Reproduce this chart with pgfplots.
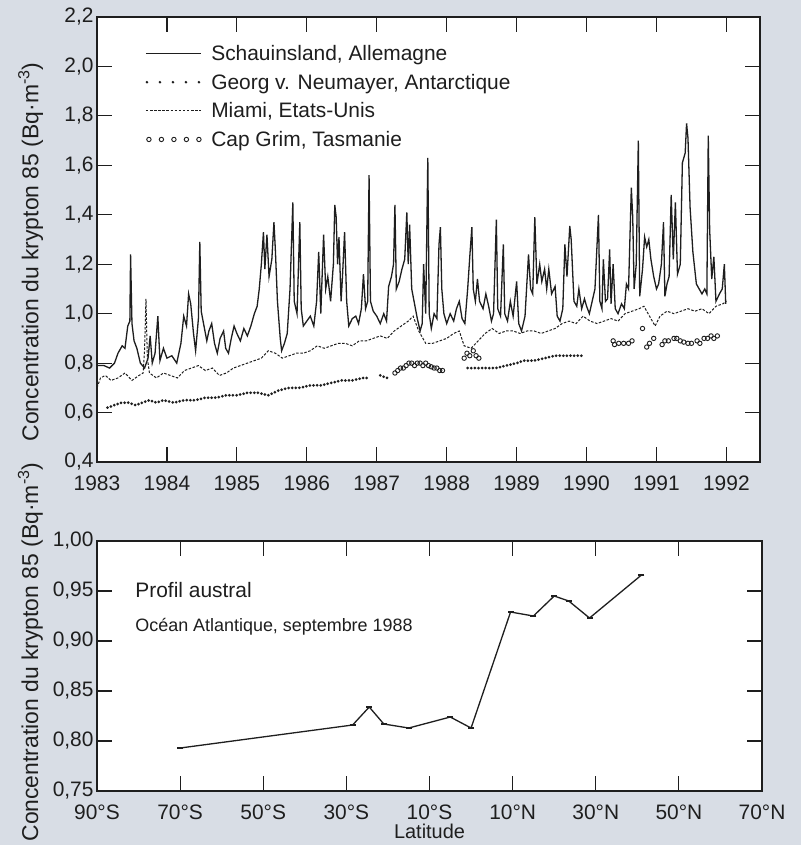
\documentclass[border=0pt]{standalone}
\usepackage{fontspec}
\setmainfont{Liberation Sans}
\usepackage{pgfplots}
\pgfplotsset{compat=1.18}
\definecolor{bg}{RGB}{216,221,229}
\definecolor{ink}{RGB}{30,30,30}

\begin{document}
\begin{tikzpicture}
\path[use as bounding box] (0,0) rectangle (801bp,-845bp);
\clip (0,0) rectangle (801bp,-845bp);
\fill[bg] (0,0) rectangle (801bp,-845bp);
\pgfplotsset{
  kr/.style={
    scale only axis,
    axis background/.style={fill=white},
    axis line style={line width=1.4bp, ink},
    tick style={line width=1.2bp, ink},
    major tick length=15bp,
    tick align=inside,
    tick label style={font=\fontsize{21}{25}\selectfont, text=ink},
    xticklabel style={yshift=-10bp},
    label style={font=\fontsize{23}{27}\selectfont, text=ink},
    /pgf/number format/assume math mode=true,
    /pgf/number format/use comma,
    /pgf/number format/1000 sep={},
  }
}

% ---------- top: time series ----------
\begin{axis}[kr,
  at={(97bp,-462bp)}, anchor=south west,
  width=663bp, height=445bp,
  xmin=1983, xmax=1992.48, ymin=0.4, ymax=2.2,
  xtick={1983,1984,...,1992},
  ytick={0.4,0.6,0.8,1.0,1.2,1.4,1.6,1.8,2.0,2.2},
  yticklabel style={/pgf/number format/fixed, /pgf/number format/fixed zerofill, /pgf/number format/precision=1},
  ylabel={Concentration du krypton 85 (Bq·m\textsuperscript{-3})},
  ylabel style={at={(axis description cs:-0.1,0.472)}, anchor=center},
  unbounded coords=jump,
  legend style={at={(axis description cs:0.068,0.946)}, anchor=north west,
    draw=none, fill=none, font=\fontsize{21}{25}\selectfont, text=ink,
    row sep=8bp, cells={anchor=west},
    /tikz/every odd column/.append style={column sep=6bp}},
  legend image code/.code={\draw[#1] (0bp,0bp) -- (55bp,0bp);},
]
\addplot[ink, line width=1.3bp] coordinates {
(1983.00,0.79) (1983.10,0.79) (1983.18,0.78) (1983.25,0.80) (1983.30,0.84) (1983.36,0.87)
(1983.40,0.86) (1983.44,0.95) (1983.47,0.97) (1983.48,1.24) (1983.50,0.96) (1983.53,0.89)
(1983.57,0.86) (1983.62,0.80) (1983.68,0.78) (1983.73,0.82) (1983.76,0.91) (1983.79,0.80)
(1983.83,0.84) (1983.87,0.99) (1983.90,0.81) (1983.95,0.86) (1984.00,0.82) (1984.07,0.83)
(1984.14,0.80) (1984.20,0.88) (1984.24,0.99) (1984.28,0.95) (1984.31,1.08) (1984.34,1.04)
(1984.38,0.92) (1984.41,0.85) (1984.45,0.98) (1984.47,1.29) (1984.49,1.01) (1984.53,0.95)
(1984.57,0.89) (1984.60,0.93) (1984.64,0.96) (1984.68,0.88) (1984.72,0.84) (1984.76,0.90)
(1984.81,0.93) (1984.84,0.86) (1984.88,0.84) (1984.92,0.90) (1984.96,0.95) (1985.00,0.92)
(1985.05,0.89) (1985.10,0.94) (1985.15,0.91) (1985.20,0.95) (1985.25,1.00) (1985.29,1.03)
(1985.32,1.10) (1985.35,1.20) (1985.38,1.33) (1985.40,1.18) (1985.43,1.32) (1985.46,1.15)
(1985.50,1.22) (1985.53,1.37) (1985.55,1.26) (1985.58,1.05) (1985.62,0.90) (1985.64,0.85)
(1985.68,0.88) (1985.72,0.92) (1985.76,1.10) (1985.80,1.45) (1985.82,1.05) (1985.86,1.00)
(1985.90,1.37) (1985.92,1.02) (1985.95,0.95) (1986.00,0.97) (1986.05,0.99) (1986.10,0.95)
(1986.14,1.05) (1986.17,1.25) (1986.20,1.00) (1986.24,1.32) (1986.27,1.10) (1986.30,1.15)
(1986.34,1.05) (1986.38,1.20) (1986.40,1.44) (1986.42,1.39) (1986.44,1.20) (1986.46,1.31)
(1986.49,1.05) (1986.51,1.15) (1986.54,1.33) (1986.57,1.05) (1986.60,0.95) (1986.65,0.98)
(1986.70,0.99) (1986.74,0.96) (1986.78,1.02) (1986.81,1.16) (1986.84,1.02) (1986.87,1.05)
(1986.89,1.56) (1986.91,1.05) (1986.95,1.01) (1987.00,0.99) (1987.05,0.96) (1987.10,1.00)
(1987.14,0.97) (1987.17,1.11) (1987.21,1.15) (1987.24,1.20) (1987.26,1.44) (1987.28,1.10)
(1987.32,1.13) (1987.36,1.18) (1987.40,1.22) (1987.43,1.41) (1987.45,1.20) (1987.47,1.36)
(1987.50,1.10) (1987.54,1.04) (1987.58,0.98) (1987.62,0.93) (1987.65,0.96) (1987.67,1.20)
(1987.70,1.00) (1987.73,1.63) (1987.75,1.00) (1987.78,0.94) (1987.82,1.00) (1987.86,0.98)
(1987.89,1.28) (1987.91,1.35) (1987.93,1.10) (1987.96,1.00) (1988.00,0.96) (1988.05,1.00)
(1988.10,0.97) (1988.14,1.02) (1988.18,1.05) (1988.22,0.98) (1988.26,0.96) (1988.30,1.10)
(1988.33,1.23) (1988.36,1.35) (1988.38,1.10) (1988.41,1.05) (1988.44,1.14) (1988.47,1.05)
(1988.52,1.02) (1988.56,1.08) (1988.60,1.03) (1988.64,0.97) (1988.67,1.00) (1988.71,1.38)
(1988.73,1.02) (1988.77,0.99) (1988.81,1.28) (1988.83,1.00) (1988.87,0.97) (1988.91,1.05)
(1988.95,0.99) (1989.00,1.13) (1989.03,0.96) (1989.07,0.93) (1989.12,0.99) (1989.17,1.24)
(1989.20,1.10) (1989.23,1.08) (1989.26,1.39) (1989.29,1.12) (1989.33,1.20) (1989.36,1.13)
(1989.40,1.18) (1989.43,1.10) (1989.46,1.18) (1989.50,1.08) (1989.55,1.11) (1989.58,0.99)
(1989.62,0.97) (1989.66,1.02) (1989.69,1.28) (1989.72,1.15) (1989.76,1.355) (1989.78,1.30)
(1989.82,1.05) (1989.86,1.03) (1989.89,1.10) (1989.93,1.02) (1989.97,1.06) (1990.00,1.03)
(1990.04,1.00) (1990.08,1.05) (1990.12,1.10) (1990.17,1.40) (1990.19,1.05) (1990.22,1.02)
(1990.24,1.22) (1990.27,1.05) (1990.30,1.06) (1990.33,1.26) (1990.35,1.04) (1990.38,1.20)
(1990.41,1.02) (1990.45,1.00) (1990.50,1.04) (1990.54,1.02) (1990.57,1.12) (1990.60,1.10)
(1990.64,1.51) (1990.66,1.39) (1990.68,1.10) (1990.71,1.20) (1990.74,1.70) (1990.76,1.07)
(1990.80,1.18) (1990.83,1.31) (1990.86,1.27) (1990.89,1.30) (1990.92,1.22) (1990.96,1.15)
(1991.00,1.10) (1991.03,1.12) (1991.07,1.20) (1991.10,1.37) (1991.12,1.07) (1991.15,1.12)
(1991.18,1.15) (1991.21,1.48) (1991.24,1.22) (1991.27,1.45) (1991.30,1.16) (1991.34,1.20)
(1991.37,1.61) (1991.41,1.65) (1991.43,1.77) (1991.45,1.71) (1991.48,1.43) (1991.52,1.25)
(1991.57,1.12) (1991.61,1.10) (1991.65,1.08) (1991.69,1.10) (1991.72,1.08) (1991.74,1.72)
(1991.76,1.34) (1991.79,1.14) (1991.82,1.23) (1991.85,1.05) (1991.90,1.08) (1991.94,1.10)
(1991.97,1.20) (1991.99,1.04)
};
\addlegendentry{Schauinsland, Allemagne}

\addplot[ink, line width=3bp, line cap=round, dash pattern=on 0bp off 3.6bp,
  legend image code/.code={\draw[ink, line width=2.8bp, line cap=round, dash pattern=on 0bp off 13bp] (1bp,0bp) -- (56bp,0bp);}]
coordinates {
(1983.15,0.62) (1983.25,0.63) (1983.35,0.64) (1983.45,0.64) (1983.55,0.63) (1983.65,0.64)
(1983.75,0.65) (1983.85,0.64) (1983.95,0.65) (1984.10,0.64) (1984.25,0.65) (1984.40,0.65)
(1984.55,0.66) (1984.70,0.66) (1984.85,0.67) (1985.00,0.67) (1985.15,0.68) (1985.30,0.68)
(1985.45,0.67) (1985.60,0.69) (1985.75,0.70) (1985.90,0.70) (1986.05,0.71) (1986.20,0.71)
(1986.35,0.72) (1986.50,0.73) (1986.65,0.73) (1986.80,0.74) (1986.90,0.74) (1986.95,nan)
(1987.05,0.75) (1987.15,0.74) (1987.20,nan)
(1988.30,0.78) (1988.40,0.78) (1988.55,0.78) (1988.70,0.78) (1988.85,0.79) (1989.00,0.80)
(1989.10,0.81) (1989.25,0.81) (1989.40,0.82) (1989.55,0.83) (1989.70,0.83) (1989.85,0.83)
(1989.96,0.83)
};
\addlegendentry{Georg v. Neumayer, Antarctique}

\addplot[ink, line width=1bp, dash pattern=on 2.5bp off 1.6bp] coordinates {
(1983.00,0.70) (1983.05,0.74) (1983.12,0.75) (1983.20,0.73) (1983.30,0.74) (1983.40,0.76)
(1983.50,0.73) (1983.60,0.75) (1983.66,0.76) (1983.68,0.85) (1983.70,1.06) (1983.72,0.82)
(1983.75,0.76) (1983.85,0.74) (1983.95,0.76) (1984.05,0.75) (1984.15,0.74) (1984.25,0.77)
(1984.35,0.78) (1984.45,0.79) (1984.55,0.77) (1984.65,0.78) (1984.75,0.75) (1984.85,0.76)
(1984.95,0.78) (1985.05,0.79) (1985.15,0.80) (1985.25,0.81) (1985.35,0.82) (1985.45,0.85)
(1985.55,0.84) (1985.65,0.82) (1985.75,0.83) (1985.85,0.84) (1985.95,0.84) (1986.05,0.85)
(1986.15,0.87) (1986.25,0.86) (1986.35,0.87) (1986.45,0.88) (1986.55,0.88) (1986.65,0.87)
(1986.75,0.89) (1986.85,0.89) (1986.95,0.90) (1987.05,0.91) (1987.15,0.90) (1987.25,0.93)
(1987.35,0.95) (1987.45,0.97) (1987.52,0.99) (1987.60,0.93) (1987.70,0.88) (1987.80,0.88)
(1987.90,0.89) (1988.00,0.90) (1988.10,0.92) (1988.18,0.93) (1988.25,0.87) (1988.35,0.86)
(1988.45,0.89) (1988.55,0.92) (1988.65,0.94) (1988.75,0.92) (1988.85,0.93) (1988.95,0.93)
(1989.05,0.92) (1989.15,0.93) (1989.25,0.93) (1989.35,0.92) (1989.45,0.93) (1989.55,0.94)
(1989.65,0.96) (1989.75,0.97) (1989.85,0.96) (1989.95,0.99) (1990.05,0.97) (1990.15,0.96)
(1990.25,0.97) (1990.35,0.98) (1990.45,0.97) (1990.55,1.00) (1990.65,1.01) (1990.75,1.02)
(1990.82,1.03) (1990.90,0.99) (1990.98,0.95) (1991.05,0.99) (1991.15,1.01) (1991.25,1.00)
(1991.35,1.01) (1991.45,1.02) (1991.55,1.01) (1991.65,1.02) (1991.75,1.00) (1991.85,1.03)
(1991.95,1.04) (1992.00,1.05)
};
\addlegendentry{Miami, Etats-Unis}

\addplot[only marks, mark=o, mark size=2.2bp, mark options={ink, line width=0.9bp},
  legend image code/.code={\foreach \i in {0,...,4} {\draw[ink, line width=0.9bp] (\i*12.5bp+3bp,0bp) circle (2.2bp);}}]
coordinates {
(1987.26,0.76) (1987.30,0.77) (1987.34,0.78) (1987.38,0.78) (1987.42,0.79) (1987.46,0.80)
(1987.50,0.80) (1987.54,0.79) (1987.58,0.80) (1987.62,0.80) (1987.66,0.79) (1987.70,0.80)
(1987.74,0.79) (1987.78,0.785) (1987.82,0.78) (1987.86,0.78) (1987.90,0.77) (1987.94,0.77)
(1988.25,0.82) (1988.29,0.84) (1988.33,0.83) (1988.38,0.85) (1988.42,0.83) (1988.46,0.82)
(1990.38,0.89) (1990.40,0.875) (1990.46,0.88) (1990.53,0.88) (1990.60,0.88) (1990.65,0.89)
(1990.80,0.94) (1990.86,0.865) (1990.90,0.88) (1990.96,0.90) (1991.08,0.875) (1991.12,0.89)
(1991.17,0.89) (1991.25,0.90) (1991.29,0.90) (1991.34,0.89) (1991.39,0.885) (1991.45,0.88)
(1991.50,0.88) (1991.58,0.89) (1991.62,0.88) (1991.68,0.90) (1991.73,0.90) (1991.78,0.91)
(1991.82,0.90) (1991.87,0.91)
};
\addlegendentry{Cap Grim, Tasmanie}
\end{axis}

% ---------- bottom: latitude profile ----------
\begin{axis}[kr,
  at={(97bp,-791bp)}, anchor=south west,
  width=665bp, height=250bp,
  xmin=-90, xmax=70, ymin=0.75, ymax=1.0,
  xtick={-90,-70,...,70},
  xticklabels={90°S,70°S,50°S,30°S,10°S,10°N,30°N,50°N,70°N},
  ytick={0.75,0.80,0.85,0.90,0.95,1.00},
  yticklabel style={/pgf/number format/fixed, /pgf/number format/fixed zerofill, /pgf/number format/precision=2},
  ylabel={Concentration du krypton 85 (Bq·m\textsuperscript{-3})},
  ylabel style={at={(axis description cs:-0.1,0.556)}, anchor=center},
  xlabel={Latitude},
  xlabel style={at={(axis description cs:0.5,0)}, yshift=-40bp, anchor=center, font=\fontsize{20}{24}\selectfont},
]
\addplot[ink, line width=1.3bp, mark=-, mark size=3bp, mark options={line width=1.3bp}] coordinates {
(-70,0.793) (-28.5,0.816) (-24.5,0.834) (-21,0.817) (-15,0.813) (-5,0.824) (0,0.813)
(9.5,0.929) (15,0.925) (20,0.945) (23.5,0.940) (28.5,0.923) (41,0.966)
};
\node[anchor=west, font=\fontsize{21}{25}\selectfont, text=ink] at (axis cs:-81.6,0.951) {Profil austral};
\node[anchor=west, font=\fontsize{18}{22}\selectfont, text=ink] at (axis cs:-81.6,0.914) {Océan Atlantique, septembre 1988};
\end{axis}
\end{tikzpicture}
\end{document}
